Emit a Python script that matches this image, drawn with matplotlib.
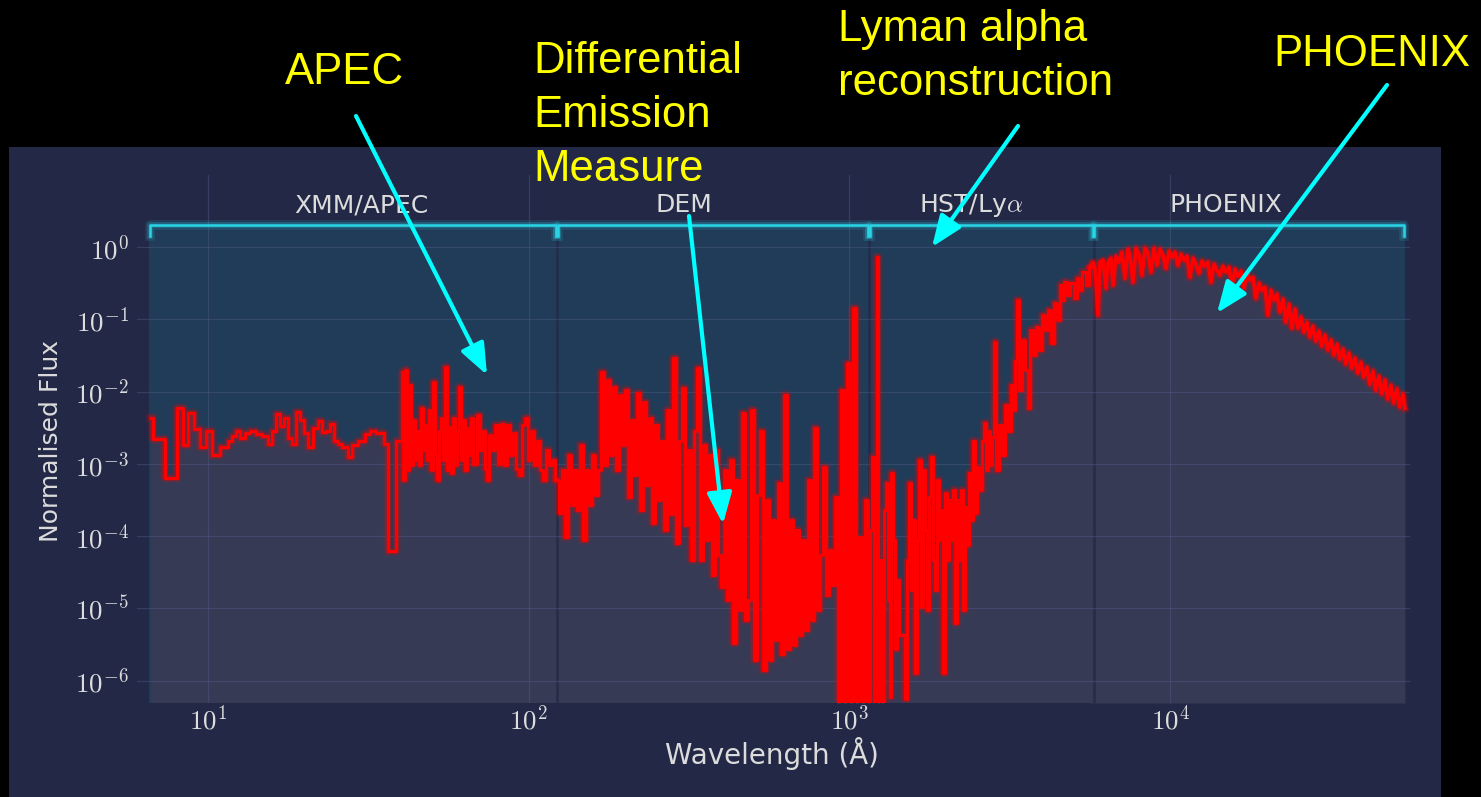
import matplotlib
matplotlib.use('Agg')
import matplotlib.pyplot as plt
from matplotlib.patches import Rectangle, FancyArrowPatch
from matplotlib.ticker import FixedLocator, NullLocator, FuncFormatter
import numpy as np

plt.rcParams['mathtext.fontset'] = 'cm'

# ---------------- data ----------------
# XMM / APEC part (step bins, left edges in Angstrom)
apec_wave = [6.65, 6.74, 7.34, 8.0, 8.36, 8.66, 9.04, 9.44, 9.86, 10.29,
             10.9, 11.54, 11.88, 12.23, 12.58, 13.04, 13.52, 14.11, 14.74, 15.39,
             15.83, 16.3, 16.77, 17.26, 17.76, 18.28, 18.81, 19.36, 19.92, 20.5,
             21.25, 22.03, 22.67, 23.33, 24.0, 24.71, 25.43, 26.17, 27.33, 28.12,
             29.36, 30.87, 32.0, 33.42, 35.39, 36.42, 38.57,
             39.7, 40.2, 40.6, 41.2, 41.7, 42.4, 43.0, 43.6, 44.2, 44.9,
             45.5, 46.2, 46.8, 47.5, 48.2, 48.9, 49.6, 50.3, 51.0, 51.8,
             52.5, 53.3, 54.1, 54.8, 55.6, 56.4, 57.2, 58.1, 58.9, 59.8,
             60.7, 61.6, 62.4, 63.4, 64.3, 65.2, 66.2, 67.1, 68.8, 70.5,
             71.5, 73.0, 74.1, 75.2, 76.8, 78.4, 80.1, 81.8, 83.6, 85.6,
             87.5, 89.4, 91.3, 93.4, 95.4, 97.4, 99.7, 101.8, 104.0, 106.3,
             108.4, 110.8, 113.2, 115.6, 118.2, 121.0]
apec_flux = [4.3e-3, 2.2e-3, 6.4e-4, 5.9e-3, 1.8e-3, 5.1e-3, 3.0e-3, 1.7e-3, 2.85e-3, 1.33e-3,
             1.7e-3, 2.1e-3, 2.4e-3, 2.9e-3, 2.3e-3, 2.7e-3, 2.9e-3, 2.6e-3, 2.4e-3, 1.9e-3,
             2.9e-3, 4.9e-3, 3.3e-3, 4.3e-3, 2.3e-3, 1.9e-3, 5.2e-3, 4.0e-3, 2.7e-3, 1.7e-3,
             3.1e-3, 3.9e-3, 2.8e-3, 2.9e-3, 3.6e-3, 2.1e-3, 1.9e-3, 1.7e-3, 1.25e-3, 1.8e-3,
             2.1e-3, 2.6e-3, 2.9e-3, 2.7e-3, 1.9e-3, 6.2e-5, 2.1e-3,
             2.1e-3, 1.9e-2, 6.0e-4, 2.0e-2, 8.2e-4, 1.23e-2, 9.7e-4, 4.0e-3, 1.13e-3, 2.9e-3,
             9.7e-4, 5.9e-3, 1.56e-3, 3.45e-3, 1.13e-3, 5.6e-3, 8.2e-4, 1.36e-2, 1.33e-3, 6.0e-4,
             2.9e-3, 4.3e-3, 1.13e-3, 2.2e-2, 8.2e-4, 3.2e-3, 7.5e-4, 4.3e-3, 9.7e-4, 2.9e-3,
             1.15e-2, 1.13e-3, 4.0e-3, 8.2e-4, 3.1e-3, 1.33e-3, 4.3e-3, 1.0e-3, 4.7e-3, 1.56e-3,
             2.9e-3, 8.5e-4, 6.0e-4, 2.5e-3, 1.56e-3, 3.45e-3, 1.0e-3, 3.6e-3, 9.7e-4, 3.45e-3,
             1.33e-3, 2.7e-3, 8.5e-4, 7.0e-4, 3.45e-3, 4.3e-3, 1.13e-3, 2.9e-3, 9.7e-4, 2.1e-3,
             8.2e-4, 6.0e-4, 1.56e-3, 9.7e-4, 1.13e-3, 6.0e-4]

# DEM part
dem_wave = [122.5, 125.2, 127.9, 130.7, 133.6, 136.5, 139.5, 142.5, 145.6, 148.8,
            152.0, 155.3, 158.7, 162.2, 165.7, 169.3, 173.0, 176.8, 180.6, 184.5,
            188.5, 192.7, 196.8, 201.1, 205.5, 210.0, 214.5, 219.2, 224.0, 228.8,
            233.8, 238.9, 244.1, 249.5, 254.9, 260.4, 266.1, 271.9, 277.8, 283.9,
            290.0, 296.4, 302.8, 309.4, 316.1, 323.0, 330.0, 337.2, 344.6, 352.1,
            359.8, 367.6, 375.6, 383.8, 392.1, 400.6, 409.4, 418.3, 427.4, 436.7,
            446.2, 455.9, 465.9, 476.0, 486.4, 497.0, 507.8, 518.8, 530.1, 541.7,
            553.4, 565.5, 577.8, 590.4, 603.3, 616.4, 629.8, 643.5, 657.6, 671.9,
            686.5, 701.5, 716.7, 732.3, 748.2, 764.5, 781.2, 798.1, 815.5, 833.3,
            851.4, 870.0, 888.9, 908.4, 928.0, 948.4, 969.0, 990.1, 1011.6, 1033.7,
            1056.3, 1079.2, 1102.8, 1126.6]
dem_flux = [6.0e-4, 2.1e-4, 8.2e-4, 9.7e-5, 1.33e-3, 2.7e-4, 8.2e-4, 2.3e-4, 1.8e-3, 8.9e-5,
            8.2e-4, 2.7e-4, 1.33e-3, 3.7e-4, 8.2e-4, 1.87e-2, 9.7e-4, 1.45e-2, 1.33e-3, 1.16e-2,
            8.2e-4, 9.0e-3, 1.8e-3, 1.05e-2, 3.5e-4, 4.0e-3, 7.0e-4, 9.6e-3, 2.3e-4, 7.2e-3,
            5.1e-4, 4.3e-3, 1.52e-4, 3.45e-3, 3.2e-4, 2.1e-3, 1.22e-4, 5.6e-3, 2.0e-4, 2.9e-2,
            8.1e-5, 2.1e-3, 1.13e-2, 1.43e-4, 1.56e-3, 4.7e-5, 2.9e-3, 2.1e-2, 4.7e-5, 1.8e-3,
            8.9e-5, 1.33e-3, 2.9e-5, 1.56e-3, 5.5e-5, 2.0e-5, 8.2e-4, 1.31e-5, 1.13e-3, 3.3e-6,
            6.0e-4, 9.5e-6, 5.1e-3, 6.9e-6, 1.31e-5, 5.6e-3, 1.94e-6, 3.7e-4, 2.9e-3, 1.41e-6,
            3.2e-4, 1.94e-6, 1.7e-4, 3.7e-6, 5.4e-4, 2.3e-6, 9.0e-3, 2.7e-6, 1.7e-4, 3.1e-6,
            1.22e-4, 4.3e-6, 8.9e-5, 5.0e-6, 6.0e-4, 6.9e-6, 3.1e-3, 9.5e-6, 5.5e-5, 9.1e-4,
            1.54e-5, 6.4e-5, 2.1e-5, 3.5e-4, 1e-7, 1.05e-2, 1e-7, 2.5e-2, 1e-7, 0.143,
            1e-7, 9.7e-5, 1e-7, 3.2e-4]

# HST / Lyman alpha part
lya_wave = [1151, 1168, 1185, 1193, 1211, 1219, 1237, 1255, 1273, 1291,
            1310, 1329, 1339, 1358, 1378, 1398, 1418, 1439, 1481, 1502,
            1523, 1545, 1568, 1590, 1613, 1637, 1660, 1685, 1709, 1734,
            1759, 1784, 1810, 1836, 1862, 1889, 1917, 1945, 1972, 2001,
            2030, 2059, 2089, 2120, 2150, 2181, 2213, 2245, 2277, 2310,
            2344, 2377, 2412, 2446, 2482, 2518, 2554, 2610, 2648, 2686,
            2725, 2764, 2804, 2844, 2886, 2948, 3013, 3078, 3145, 3214,
            3260, 3307, 3355, 3404, 3478, 3554, 3631, 3684, 3764, 3846,
            3930, 4015, 4102, 4193, 4282, 4377, 4472, 4569, 4634, 4735,
            4838, 4944, 5052, 5161, 5274, 5388, 5507, 5626]
lya_flux = [1e-7, 1.22e-4, 1.25e-3, 1e-7, 1.31e-5, 0.73, 1e-7, 4.7e-5, 1e-7, 2.3e-4,
            5.4e-4, 1.31e-5, 5.9e-7, 7.5e-4, 8.9e-5, 2.7e-6, 2.5e-5, 4.3e-6, 4.3e-6, 5.6e-7,
            4.7e-5, 5.4e-4, 1.8e-5, 1.7e-4, 1.28e-6, 8.9e-5, 1.13e-3, 1.05e-5, 8.2e-4, 1.22e-4,
            9.5e-6, 3.5e-4, 1.25e-3, 4.7e-5, 1.8e-5, 6.0e-4, 8.9e-5, 2.3e-4, 1.28e-6, 4.0e-4,
            4.7e-5, 3.2e-4, 8.9e-5, 4.4e-4, 6.3e-6, 3.2e-4, 4.7e-5, 4.4e-4, 9.5e-6, 2.5e-4,
            7.6e-5, 7.5e-4, 1.7e-4, 2.1e-3, 2.1e-4, 9.1e-4, 4.4e-4, 2.1e-3, 3.7e-3, 8.2e-4,
            2.9e-3, 9.7e-4, 2.36e-3, 4.9e-2, 8.2e-4, 3.45e-3, 1.33e-3, 6.5e-3, 2.9e-3, 1.23e-2,
            5.6e-3, 2.7e-2, 0.185, 1.05e-2, 5.2e-2, 2.0e-2, 5.9e-3, 7.1e-2, 3.2e-2, 7.85e-2,
            3.8e-2, 0.115, 7.1e-2, 0.135, 4.7e-2, 0.168, 9.8e-2, 0.30, 0.185, 0.33,
            0.217, 0.32, 0.197, 0.37, 0.254, 0.45, 0.298, 0.53]

# PHOENIX part
phx_wave = [5750, 5833, 5960, 6046, 6178, 6312, 6403, 6542, 6637, 6781,
            6929, 7079, 7234, 7391, 7499, 7661, 7829, 7998, 8173, 8352,
            8533, 8719, 8910, 9104, 9301, 9504, 9710, 9922, 10137, 10358,
            10583, 10814, 11049, 11290, 11536, 11786, 12043, 12305, 12574, 12847,
            13127, 13411, 13704, 14001, 14307, 14617, 14936, 15262, 15596, 15936,
            16281, 16637, 16998, 17370, 17746, 18134, 18530, 18931, 19344, 19763,
            20195, 20632, 21086, 21542, 22013, 22494, 22981, 23483, 23991, 24516,
            25046, 25594, 26148, 26719, 27297, 27894, 28498, 29121, 29751, 30402,
            31060, 31740, 32435, 33137, 33862, 34594, 35351, 36116, 36907, 37705,
            38530, 39364, 40226, 41105, 41995, 42914, 43843, 44802, 45771, 46773,
            47785, 48831, 49888, 50980, 52083, 53223, 53991]
phx_flux = [0.601, 0.512, 0.115, 0.620, 0.661, 0.271, 0.620, 0.705, 0.298, 0.751,
            0.620, 0.853, 0.373, 0.938, 0.775, 0.328, 0.969, 0.800, 0.410, 0.969,
            0.826, 0.451, 0.969, 0.564, 0.938, 0.775, 0.512, 0.880, 0.727, 0.853,
            0.564, 0.800, 0.661, 0.751, 0.384, 0.705, 0.582, 0.437, 0.641, 0.546,
            0.620, 0.328, 0.582, 0.481, 0.410, 0.546, 0.451, 0.529, 0.298, 0.496,
            0.397, 0.466, 0.271, 0.437, 0.350, 0.384, 0.197, 0.318, 0.254, 0.280,
            0.115, 0.254, 0.185, 0.224, 0.126, 0.191, 0.0917, 0.163, 0.0759, 0.139,
            0.0759, 0.108, 0.0668, 0.0917, 0.0569, 0.0808, 0.0501, 0.0689, 0.0427, 0.0607,
            0.0378, 0.0520, 0.0321, 0.0455, 0.0282, 0.0389, 0.0241, 0.0342, 0.0212, 0.0292,
            0.0181, 0.0256, 0.0159, 0.0218, 0.0127, 0.0193, 0.0105, 0.0164, 0.0093, 0.0145,
            0.0079, 0.0123, 0.0070, 0.0109, 0.0061, 0.0093, 0.0059]

section_names = ['XMM/APEC', 'DEM', r'HST/Ly$\alpha$', 'PHOENIX']
section_edges = [6.55, 122.5, 1150, 5770, 54000]
section_label_x = [30, 305, 2390, 14900]

x_ticks = [10, 100, 1000, 10000]
y_ticks = [1e-6, 1e-5, 1e-4, 1e-3, 1e-2, 1e-1, 1]

# ---------------- style ----------------
W, H = 1481, 797
PANEL = '#222846'
TEAL = '#203c58'
GREY = '#363a54'
CYAN = '#2ad4e6'
TXT = '#dcdcdc'
YMIN, YMAX, TOP = 4.9e-7, 10, 2.0


def fxy(px, py):
    # pixel position (from top-left) -> figure fraction
    return (px / W, 1 - py / H)


# APEC binned (steps-post), DEM + HST dense spikes (steps-mid), PHOENIX smooth line
step_w = np.array(apec_wave + dem_wave[:1])
step_f = np.array(apec_flux + dem_flux[:1])
mid_w = np.array(dem_wave + lya_wave + phx_wave[:1])
mid_f = np.array(dem_flux + lya_flux + phx_flux[:1])
phx_w = np.array(lya_wave[-1:] + phx_wave)
phx_f = np.array(lya_flux[-1:] + phx_flux)

fig = plt.figure(figsize=(W / 100, H / 100), dpi=100, facecolor='black')
fig.add_artist(Rectangle((9 / W, 0), 1432 / W, 650 / H, transform=fig.transFigure,
                         facecolor=PANEL, edgecolor='none', zorder=-1))

ax = fig.add_axes([137 / W, 94 / H, 1273 / W, 528 / H])
ax.set_facecolor(PANEL)
ax.set_xscale('log')
ax.set_yscale('log')
ax.set_xlim(6.0, 56000)
ax.set_ylim(YMIN, YMAX)

# section backgrounds
for lo, hi in zip(section_edges[:-1], section_edges[1:]):
    ax.fill_between([lo, hi], YMIN, TOP, color=TEAL, lw=0, zorder=1)
ax.fill_between(step_w, YMIN, step_f, step='post', color=GREY, lw=0, zorder=1.2)
ax.fill_between(mid_w, YMIN, mid_f, step='mid', color=GREY, lw=0, zorder=1.2)
ax.fill_between(phx_w, YMIN, phx_f, color=GREY, lw=0, zorder=1.2)
for e in section_edges[1:-1]:
    ax.plot([e, e], [YMIN, TOP], color=PANEL, lw=1.8, alpha=0.8, zorder=2)

# spectrum with glow
for lw_, al, z in [(7, 0.12, 3), (4.5, 0.3, 3.1), (2.2, 1.0, 3.2)]:
    ax.plot(step_w, step_f, drawstyle='steps-post', color='red', lw=lw_, alpha=al, zorder=z)
    ax.plot(mid_w, mid_f, drawstyle='steps-mid', color='red', lw=lw_, alpha=al, zorder=z)
    ax.plot(phx_w, phx_f, color='red', lw=lw_ + 0.4, alpha=al, zorder=z)

# brackets + section names
for lo, hi, name, lx in zip(section_edges[:-1], section_edges[1:], section_names, section_label_x):
    a, b = lo * 1.006, hi / 1.006
    for lw_, al in [(7, 0.12), (4, 0.25), (1.8, 1.0)]:
        ax.plot([a, a, b, b], [1.42, TOP, TOP, 1.42], color=CYAN, lw=lw_, alpha=al,
                clip_on=False, zorder=5)
    ax.text(lx, 3.05, name, ha='center', va='baseline', color=TXT, fontsize=18, zorder=5)

ax.grid(True, which='major', color='#4f5b85', alpha=0.45, lw=0.9)
ax.set_axisbelow(False)
for s in ax.spines.values():
    s.set_visible(False)

ax.xaxis.set_major_locator(FixedLocator(x_ticks))
ax.xaxis.set_minor_locator(NullLocator())
ax.yaxis.set_major_locator(FixedLocator(y_ticks))
ax.yaxis.set_minor_locator(NullLocator())
fmt = FuncFormatter(lambda v, _: r'$10^{%d}$' % int(round(np.log10(v))))
ax.xaxis.set_major_formatter(fmt)
ax.yaxis.set_major_formatter(fmt)
ax.tick_params(axis='both', length=0, labelsize=19.5, colors=TXT)
ax.tick_params(axis='y', pad=6)
ax.tick_params(axis='x', pad=2)

fig.text(*fxy(51, 441), 'Normalised Flux', rotation=90, ha='center', va='center',
         color=TXT, fontsize=18)
fig.text(*fxy(772, 764), 'Wavelength (Å)', ha='center', va='baseline',
         color=TXT, fontsize=20)

# yellow slide annotations
note_font = dict(color='#ffff00', fontsize=31.5, family='Liberation Sans',
                 ha='left', va='baseline', zorder=8)
fig.text(*fxy(285, 84), 'APEC', **note_font)
fig.text(*fxy(533, 73), 'Differential', **note_font)
fig.text(*fxy(533, 127), 'Emission', **note_font)
fig.text(*fxy(533, 181), 'Measure', **note_font)
fig.text(*fxy(838, 41), 'Lyman alpha', **note_font)
fig.text(*fxy(838, 95), 'reconstruction', **note_font)
fig.text(*fxy(1273, 66), 'PHOENIX', **note_font)

arrow_tails = [(356, 116), (689, 216), (1018, 126), (1387, 85)]
arrow_tips = [(487, 375), (723, 524), (932, 247), (1217, 313)]
for t, h in zip(arrow_tails, arrow_tips):
    fig.add_artist(FancyArrowPatch(fxy(*t), fxy(*h), transform=fig.transFigure,
                                   arrowstyle='-|>,head_length=0.95,head_width=0.38',
                                   mutation_scale=20, color='#00ffff', lw=3,
                                   shrinkA=0, shrinkB=0, zorder=10))

fig.savefig('out.png', dpi=100, facecolor='black')
